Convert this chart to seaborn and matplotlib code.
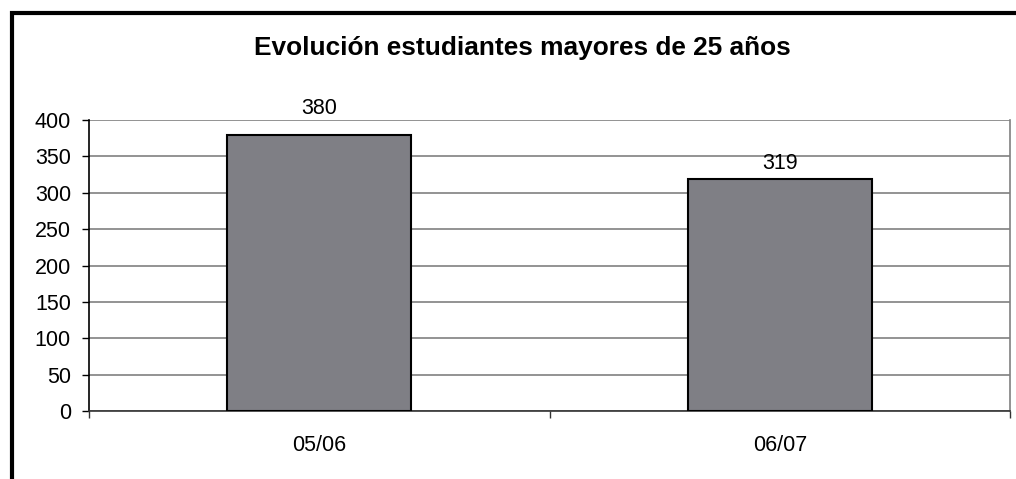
import matplotlib
matplotlib.use("Agg")
import matplotlib.pyplot as plt
import seaborn as sns
import pandas as pd
from matplotlib.patches import Rectangle

categories = ["05/06", "06/07"]
values = [380, 319]
title = "Evolución estudiantes mayores de 25 años"
yticks = [0, 50, 100, 150, 200, 250, 300, 350, 400]

sns.set_theme(style="white")
plt.rcParams['font.family'] = ['Liberation Sans', 'DejaVu Sans']

W, H = 1016, 479
fig = plt.figure(figsize=(W / 100, H / 100), dpi=100)
ax = fig.add_axes([89 / W, 1 - 411 / H, (1010 - 89) / W, (411 - 120) / H])

df = pd.DataFrame({"cat": categories, "val": values})
sns.barplot(data=df, x="cat", y="val", ax=ax, color="#7f7f85", saturation=1,
            edgecolor="black", linewidth=1.5, width=0.4, zorder=3)

ax.set_xlim(-0.5, 1.5)
ax.set_ylim(0, 400)
ax.set_yticks(yticks)
ax.set_yticklabels([str(v) for v in yticks], fontsize=15.5, color="black")
ax.yaxis.grid(True, color="#808080", linewidth=1.2, zorder=0)
ax.set_axisbelow(True)
ax.tick_params(axis="y", length=5, width=1, color="black", pad=8, left=True)

ax.set_xticks([0, 1])
ax.set_xticklabels(categories, fontsize=15.5, color="black")
ax.set_xticks([-0.5, 0.5, 1.5], minor=True)
ax.tick_params(axis="x", which="major", length=0, pad=17)
ax.tick_params(axis="x", which="minor", length=5, width=1, color="#333333", bottom=True)
ax.set_xlabel("")
ax.set_ylabel("")

ax.spines["left"].set_color("black")
ax.spines["left"].set_linewidth(1.2)
ax.spines["bottom"].set_color("#333333")
ax.spines["bottom"].set_linewidth(1.2)
ax.spines["right"].set_color("#808080")
ax.spines["right"].set_linewidth(1.2)
ax.spines["top"].set_visible(False)

label_offsets_px = [16, 5]
for i, v in enumerate(values):
    ax.annotate(str(v), (i, v), xytext=(0, label_offsets_px[i] * 72 / 100),
                textcoords="offset points", ha="center", va="bottom",
                fontsize=15.5, color="black", annotation_clip=False)

fig.text(522 / W, 1 - 48 / H, title, ha="center", va="center",
         fontsize=18.9, fontweight="bold", color="black")

fig.patches.append(Rectangle((11.5 / W, -0.1), 1.2, 1 - 13.5 / H + 0.1,
                             transform=fig.transFigure, fill=False,
                             edgecolor="black", linewidth=3, zorder=10))

fig.savefig("out.png", dpi=100, facecolor="white")
